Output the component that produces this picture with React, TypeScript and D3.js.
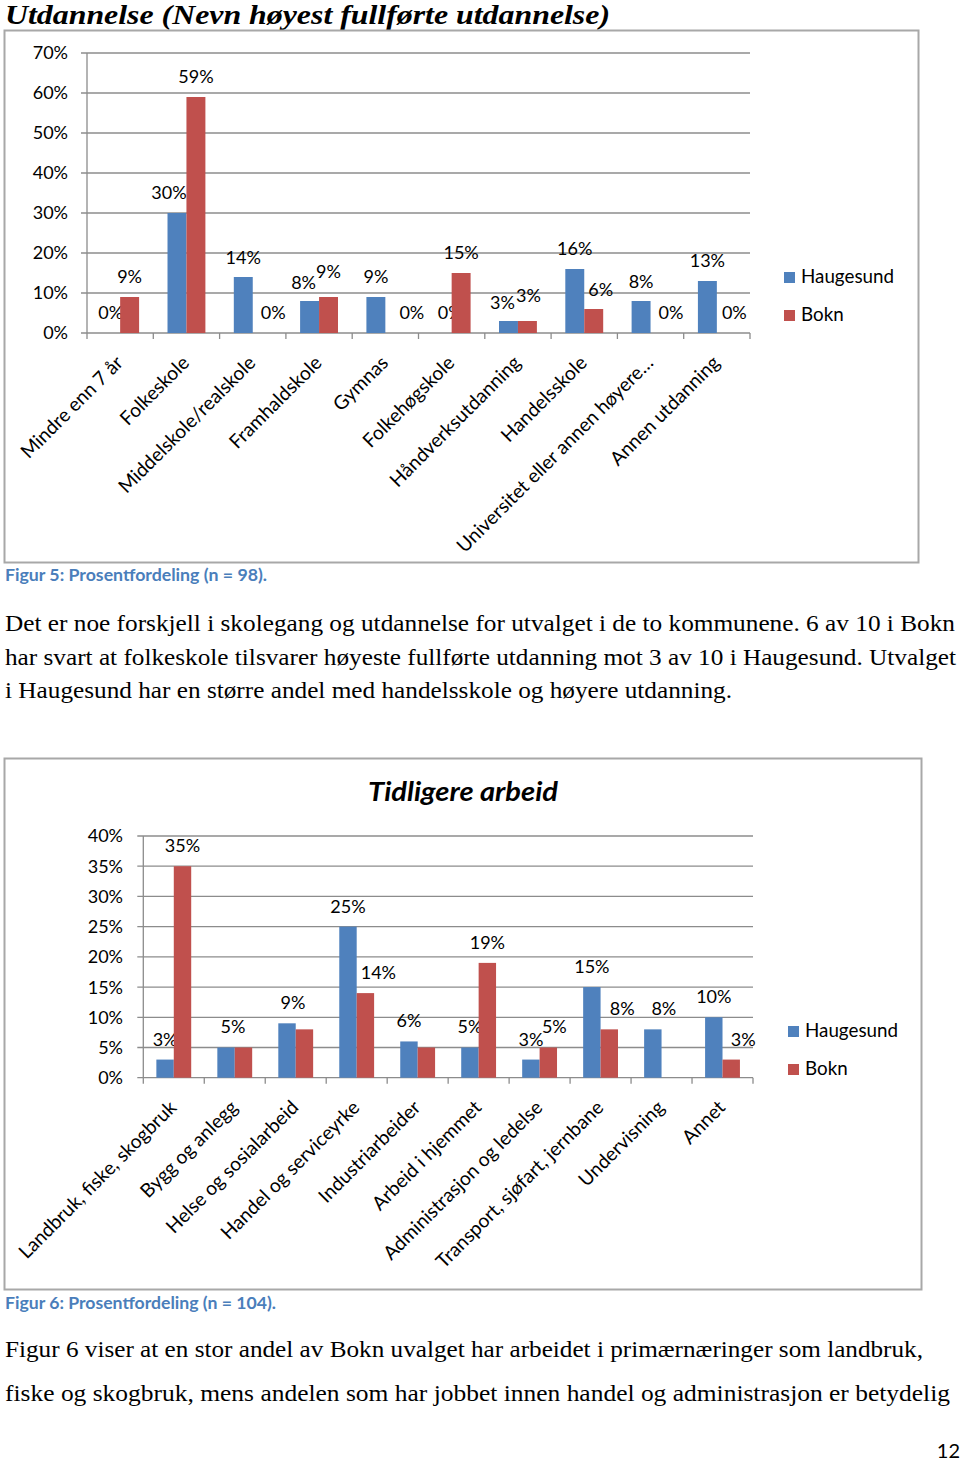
import React, { useEffect, useRef } from 'react';
import * as d3 from 'd3';

// ---- data ----
const eduCategories = [
  'Mindre enn 7 år',
  'Folkeskole',
  'Middelskole/realskole',
  'Framhaldskole',
  'Gymnas',
  'Folkehøgskole',
  'Håndverksutdanning',
  'Handelsskole',
  'Universitet eller annen høyere…',
  'Annen utdanning',
];
const eduHaugesund = [0, 30, 14, 8, 9, 0, 3, 16, 8, 13];
const eduBokn = [9, 59, 0, 9, 0, 15, 3, 6, 0, 0];
const eduTicks = [0, 10, 20, 30, 40, 50, 60, 70];

const workCategories = [
  'Landbruk, fiske, skogbruk',
  'Bygg og anlegg',
  'Helse og sosialarbeid',
  'Handel og serviceyrke',
  'Industriarbeider',
  'Arbeid i hjemmet',
  'Administrasjon og ledelse',
  'Transport, sjøfart, jernbane',
  'Undervisning',
  'Annet',
];
const workHaugesund = [3, 5, 9, 25, 6, 5, 3, 15, 8, 10];
const workBokn = [35, 5, 8, 14, 5, 19, 5, 8, 0, 3];
const workTicks = [0, 5, 10, 15, 20, 25, 30, 35, 40];

const seriesNames = ['Haugesund', 'Bokn'];

// hand-placed label nudges from the original (null = label not shown)
type Nudge = [number, number] | null;
const eduNudgeH: Nudge[] = [[0, 0], [-8, 0], [0, 1], [-6, 2], [0, 0], [8, 0], [-6, 2], [0, 0], [0, 1], [0, 0]];
const eduNudgeB: Nudge[] = [[0, 0], [0, 0], [11, 0], [0, -5], [17, 0], [0, 0], [1, -5], [7, 1], [11, 0], [8, 0]];
const workNudgeH: Nudge[] = [[0, 0], [7, 0], [6, 0], [0, 0], [0, 0], [0, 0], [0, 0], [0, 0], [11, 0], [0, 0]];
const workNudgeB: Nudge[] = [[0, 0], null, null, [13, 0], null, [0, 0], [6, 0], [13, 0], null, [12, 0]];

const BLUE = '#4f81bd';
const RED = '#c0504d';
const GRID = '#8c8c8c';
const FRAME = '#a8a8a8';
const SANS = 'Lato, "Noto Sans", sans-serif';
const SERIF = '"Liberation Serif", "Times New Roman", serif';

interface ChartOpts {
  categories: string[];
  h: number[];
  b: number[];
  ticks: number[];
  left: number;
  right: number;
  top: number;
  bottom: number;
  tickLabelX: number;
  legendX: number;
  legendY: number;
  nudgeH: Nudge[];
  nudgeB: Nudge[];
}

function drawChart(g: d3.Selection<SVGGElement, unknown, null, undefined>, o: ChartOpts) {
  const y = d3.scaleLinear().domain([0, d3.max(o.ticks)!]).range([o.bottom, o.top]);
  const x = d3.scaleBand().domain(o.categories).range([o.left, o.right]);
  const sub = d3.scaleBand().domain(['h', 'b']).range([0, x.bandwidth()]).paddingInner(0).paddingOuter(0.75);

  // gridlines
  g.append('g')
    .selectAll('line')
    .data(o.ticks.filter(t => t > 0))
    .join('line')
    .attr('x1', o.left - 6)
    .attr('x2', o.right)
    .attr('y1', d => y(d))
    .attr('y2', d => y(d))
    .attr('stroke', GRID)
    .attr('stroke-width', 1.3);

  // axes
  g.append('line')
    .attr('x1', o.left).attr('x2', o.left)
    .attr('y1', o.top).attr('y2', o.bottom)
    .attr('stroke', GRID).attr('stroke-width', 1.3);
  g.append('line')
    .attr('x1', o.left - 6).attr('x2', o.right)
    .attr('y1', o.bottom).attr('y2', o.bottom)
    .attr('stroke', GRID).attr('stroke-width', 1.3);

  g.append('g')
    .selectAll('text')
    .data(o.ticks)
    .join('text')
    .attr('x', o.tickLabelX)
    .attr('y', d => y(d))
    .attr('dy', '0.36em')
    .attr('text-anchor', 'end')
    .style('font-family', SANS)
    .style('font-size', '18px')
    .text(d => `${d}%`);

  // x ticks at band edges
  const edges = o.categories.map(c => x(c)!).concat([o.right]);
  g.append('g')
    .selectAll('line')
    .data(edges)
    .join('line')
    .attr('x1', d => d).attr('x2', d => d)
    .attr('y1', o.bottom).attr('y2', o.bottom + 6)
    .attr('stroke', GRID).attr('stroke-width', 1.3);

  // bars + value labels
  const rows = o.categories.map((c, i) => ({ c, i }));
  const series = [
    { key: 'h', color: BLUE, vals: o.h, nudge: o.nudgeH },
    { key: 'b', color: RED, vals: o.b, nudge: o.nudgeB },
  ];
  series.forEach(s => {
    g.append('g')
      .selectAll('rect')
      .data(rows)
      .join('rect')
      .attr('x', d => x(d.c)! + sub(s.key)!)
      .attr('width', sub.bandwidth())
      .attr('y', d => y(s.vals[d.i]))
      .attr('height', d => o.bottom - y(s.vals[d.i]))
      .attr('fill', s.color);

    g.append('g')
      .selectAll('text')
      .data(rows.filter(d => s.nudge[d.i] !== null))
      .join('text')
      .attr('x', d => x(d.c)! + sub(s.key)! + sub.bandwidth() / 2 + s.nudge[d.i]![0])
      .attr('y', d => y(s.vals[d.i]) - 14 + s.nudge[d.i]![1])
      .attr('text-anchor', 'middle')
      .style('font-family', SANS)
      .style('font-size', '18px')
      .text(d => `${s.vals[d.i]}%`);
  });

  // rotated category labels
  g.append('g')
    .selectAll('text')
    .data(o.categories)
    .join('text')
    .attr('transform', d => `translate(${x(d)! + x.bandwidth() / 2 + 4},${o.bottom + 31}) rotate(-45)`)
    .attr('text-anchor', 'end')
    .style('font-family', SANS)
    .style('font-size', '19.3px')
    .text(d => d);

  // legend
  const lg = g.append('g');
  seriesNames.forEach((name, i) => {
    lg.append('rect')
      .attr('x', o.legendX)
      .attr('y', o.legendY + i * 38)
      .attr('width', 11)
      .attr('height', 11)
      .attr('fill', i === 0 ? BLUE : RED);
    lg.append('text')
      .attr('x', o.legendX + 17)
      .attr('y', o.legendY + 11 + i * 38)
      .style('font-family', SANS)
      .style('font-size', '18.8px')
      .text(name);
  });
}

const App: React.FC = () => {
  const ref = useRef<SVGSVGElement | null>(null);

  useEffect(() => {
    if (!ref.current) return;
    const svg = d3.select(ref.current);
    svg.selectAll('*').remove();

    svg.append('rect').attr('width', 960).attr('height', 1462).attr('fill', '#fff');

    const para = (line: string, x: number, y: number, width: number) =>
      svg.append('text')
        .attr('x', x).attr('y', y)
        .attr('textLength', width)
        .attr('lengthAdjust', 'spacingAndGlyphs')
        .style('font-family', SERIF).style('font-size', '22.5px')
        .text(line);

    // ---------- chart 1 ----------
    svg.append('text')
      .attr('x', 5)
      .attr('y', 24)
      .style('font-family', SERIF)
      .style('font-weight', 'bold')
      .style('font-style', 'italic')
      .style('font-size', '28px')
      .attr('textLength', 605)
      .attr('lengthAdjust', 'spacingAndGlyphs')
      .text('Utdannelse (Nevn høyest fullførte utdannelse)');

    svg.append('rect')
      .attr('x', 4.5).attr('y', 30.5).attr('width', 914).attr('height', 532)
      .attr('fill', 'none').attr('stroke', FRAME).attr('stroke-width', 2);

    drawChart(svg.append('g'), {
      categories: eduCategories,
      h: eduHaugesund,
      b: eduBokn,
      ticks: eduTicks,
      left: 87,
      right: 750,
      top: 53,
      bottom: 333,
      tickLabelX: 68,
      legendX: 784,
      legendY: 272,
      nudgeH: eduNudgeH,
      nudgeB: eduNudgeB,
    });

    svg.append('text')
      .attr('x', 5).attr('y', 581)
      .attr('textLength', 262)
      .attr('lengthAdjust', 'spacingAndGlyphs')
      .style('font-family', SANS).style('font-weight', 'bold').style('font-size', '17px')
      .attr('fill', '#4a7ebb')
      .text('Figur 5: Prosentfordeling (n = 98).');

    para('Det er noe forskjell i skolegang og utdannelse for utvalget i de to kommunene. 6 av 10 i Bokn', 5, 631, 950);
    para('har svart at folkeskole tilsvarer høyeste fullførte utdanning mot 3 av 10 i Haugesund. Utvalget', 5, 664.5, 951);
    para('i Haugesund har en større andel med handelsskole og høyere utdanning.', 5, 698, 727);

    // ---------- chart 2 ----------
    svg.append('rect')
      .attr('x', 4.5).attr('y', 758.5).attr('width', 917).attr('height', 531)
      .attr('fill', 'none').attr('stroke', FRAME).attr('stroke-width', 2);

    svg.append('text')
      .attr('x', 368).attr('y', 801)
      .attr('textLength', 190)
      .attr('lengthAdjust', 'spacingAndGlyphs')
      .style('font-family', SANS).style('font-weight', 'bold').style('font-style', 'italic')
      .style('font-size', '26px')
      .text('Tidligere arbeid');

    drawChart(svg.append('g'), {
      categories: workCategories,
      h: workHaugesund,
      b: workBokn,
      ticks: workTicks,
      left: 143.3,
      right: 753,
      top: 836,
      bottom: 1077.7,
      tickLabelX: 123,
      legendX: 788,
      legendY: 1026,
      nudgeH: workNudgeH,
      nudgeB: workNudgeB,
    });

    svg.append('text')
      .attr('x', 5).attr('y', 1309)
      .attr('textLength', 271)
      .attr('lengthAdjust', 'spacingAndGlyphs')
      .style('font-family', SANS).style('font-weight', 'bold').style('font-size', '17px')
      .attr('fill', '#4a7ebb')
      .text('Figur 6: Prosentfordeling (n = 104).');

    para('Figur 6 viser at en stor andel av Bokn uvalget har arbeidet i primærnæringer som landbruk,', 5, 1357, 918);
    para('fiske og skogbruk, mens andelen som har jobbet innen handel og administrasjon er betydelig', 5, 1400.5, 945);

    svg.append('text')
      .attr('x', 960).attr('y', 1458)
      .attr('text-anchor', 'end')
      .style('font-family', SANS).style('font-size', '20px')
      .text('12');
  }, []);

  return (
    <div style={{ position: 'absolute', left: 0, top: 0 }}>
      <svg ref={ref} width={960} height={1462} style={{ display: 'block' }} />
    </div>
  );
};

export default App;
